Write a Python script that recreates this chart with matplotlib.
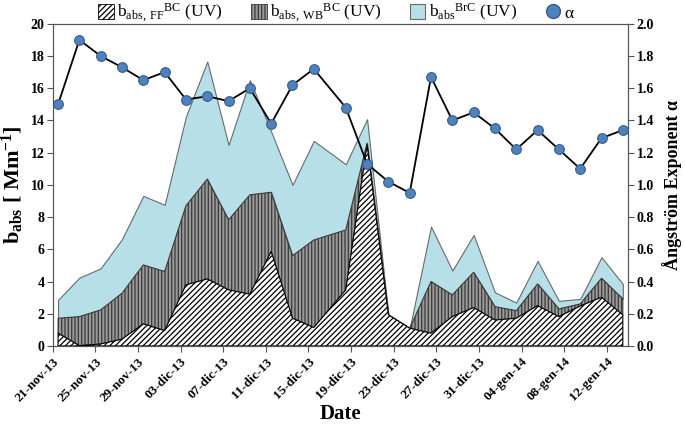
import numpy as np
import matplotlib
matplotlib.use("Agg")
import matplotlib.pyplot as plt
import matplotlib.dates as mdates
from matplotlib.patches import Patch
from matplotlib.lines import Line2D

plt.rcParams['font.family'] = ['Liberation Serif', 'DejaVu Serif']
plt.rcParams['mathtext.fontset'] = 'custom'
plt.rcParams['mathtext.rm'] = 'Liberation Serif'
plt.rcParams['mathtext.it'] = 'Liberation Serif:italic'
plt.rcParams['mathtext.bf'] = 'Liberation Serif:bold'
plt.rcParams['hatch.linewidth'] = 0.9

# sampling dates
dates = ["2013-11-21", "2013-11-23", "2013-11-25", "2013-11-27", "2013-11-29",
         "2013-12-01", "2013-12-03", "2013-12-05", "2013-12-07", "2013-12-09",
         "2013-12-11", "2013-12-13", "2013-12-15", "2013-12-18", "2013-12-20",
         "2013-12-22", "2013-12-24", "2013-12-26", "2013-12-28", "2013-12-30",
         "2014-01-01", "2014-01-03", "2014-01-05", "2014-01-07", "2014-01-09",
         "2014-01-11", "2014-01-13"]

# absorption components (Mm-1)
b_ff = [0.79, 0.02, 0.12, 0.42, 1.37, 0.95, 3.79, 4.16, 3.48, 3.21, 5.86, 1.72, 1.14,
        3.48, 12.48, 1.93, 1.10, 0.79, 1.82, 2.38, 1.61, 1.72, 2.50, 1.82, 2.48, 3.02, 1.93]
b_wb = [0.93, 1.80, 2.12, 2.85, 3.66, 3.67, 4.91, 6.20, 4.35, 6.17, 3.68, 3.88, 5.44,
        3.72, 0.11, 0.00, 0.00, 3.21, 1.35, 2.19, 0.83, 0.47, 1.35, 0.48, 0.13, 1.18, 0.99]
b_brc = [1.14, 2.42, 2.58, 3.36, 4.29, 4.14, 5.54, 7.30, 4.65, 7.12, 3.76, 4.40, 6.15,
         4.08, 1.49, 0.00, 0.00, 3.41, 1.51, 2.32, 0.89, 0.50, 1.43, 0.50, 0.31, 1.31, 0.93]

# Angstrom exponent
alpha = [1.50, 1.90, 1.80, 1.73, 1.65, 1.70, 1.53, 1.55, 1.52, 1.60, 1.38, 1.62, 1.72,
         1.48, 1.13, 1.02, 0.95, 1.67, 1.40, 1.45, 1.35, 1.22, 1.34, 1.22, 1.10, 1.29, 1.34]

tick_dates = ["2013-11-21", "2013-11-25", "2013-11-29", "2013-12-03", "2013-12-07",
              "2013-12-11", "2013-12-15", "2013-12-19", "2013-12-23", "2013-12-27",
              "2013-12-31", "2014-01-04", "2014-01-08", "2014-01-12"]
tick_labels = ["21-nov-13", "25-nov-13", "29-nov-13", "03-dic-13", "07-dic-13",
               "11-dic-13", "15-dic-13", "19-dic-13", "23-dic-13", "27-dic-13",
               "31-dic-13", "04-gen-14", "08-gen-14", "12-gen-14"]

x = mdates.datestr2num(dates) + 0.5
ff = np.array(b_ff)
wb = ff + np.array(b_wb)
tot = wb + np.array(b_brc)

fig = plt.figure(figsize=(6.85, 4.25), dpi=100)
ax = fig.add_axes([0.077, 0.186, 0.84, 0.758])

ax.fill_between(x, 0, ff, facecolor='white', edgecolor='black', hatch='//////', linewidth=0.8, zorder=3)
ax.fill_between(x, ff, wb, facecolor='#9a9a9a', edgecolor='#3a3a3a', hatch='|||||', linewidth=0.8, zorder=2)
ax.fill_between(x, wb, tot, facecolor='#b7dfe8', edgecolor='#6a6a6a', linewidth=0.8, zorder=1)

ax.set_xlim(mdates.datestr2num("2013-11-21"), mdates.datestr2num("2014-01-14"))
ax.set_ylim(0, 20)
ax.set_yticks(np.arange(0, 21, 2))
ax.set_xticks(mdates.datestr2num(tick_dates))
ax.set_xticklabels(tick_labels, rotation=45, ha='right', rotation_mode='anchor',
                   fontsize=9.5, fontweight='bold')
for lab in ax.get_yticklabels():
    lab.set_fontsize(10)
    lab.set_fontweight('bold')
ax.tick_params(axis='both', direction='out', length=4, width=0.8, color='#555555', pad=2)
ax.tick_params(axis='x', pad=3)
for s in ax.spines.values():
    s.set_color('#555555')
    s.set_linewidth(0.8)

ax.set_xlabel('Date', fontsize=15, fontweight='bold', labelpad=0)
ax.set_ylabel(r'b$_{\mathbf{abs}}$ [ Mm$^{\mathbf{-1}}$]', fontsize=16, fontweight='bold', labelpad=3)

ax2 = ax.twinx()
ax2.plot(x, alpha, color='black', linewidth=1.3, marker='o', markersize=7,
         markerfacecolor='#4f81bd', markeredgecolor='#385d8a', markeredgewidth=0.8, zorder=5)
ax2.set_ylim(0, 2.0)
ax2.set_yticks(np.arange(0, 2.01, 0.2))
ax2.set_yticklabels([f"{v:.1f}" for v in np.arange(0, 2.01, 0.2)], fontsize=10, fontweight='bold')
ax2.tick_params(axis='y', direction='out', length=4, width=0.8, color='#555555', pad=2)
for s in ax2.spines.values():
    s.set_color('#555555')
    s.set_linewidth(0.8)
ax2.set_ylabel('Ångström Exponent α', fontsize=13, fontweight='bold', labelpad=6)

handles = [
    Patch(facecolor='white', edgecolor='black', hatch='//////', linewidth=0.6),
    Patch(facecolor='#9a9a9a', edgecolor='#3a3a3a', hatch='|||||', linewidth=0.6),
    Patch(facecolor='#b7dfe8', edgecolor='#6a6a6a', linewidth=0.8),
    Line2D([], [], linestyle='none', marker='o', markersize=10,
           markerfacecolor='#4f81bd', markeredgecolor='#385d8a'),
]
labels = [r'b$_{\rm abs,\ FF}$$^{\rm BC}$ (UV)', r'b$_{\rm abs,\ WB}$$^{\rm BC}$ (UV)',
          r'b$_{\rm abs}$$^{\rm BrC}$ (UV)', 'α']
fig.legend(handles, labels, loc='upper center', bbox_to_anchor=(0.49, 1.0), ncol=4,
           frameon=False, fontsize=12.5, handlelength=0.9, handleheight=0.9,
           handletextpad=0.2, columnspacing=1.6, borderaxespad=0.0, borderpad=0.1)

fig.savefig('out.png', dpi=100)
